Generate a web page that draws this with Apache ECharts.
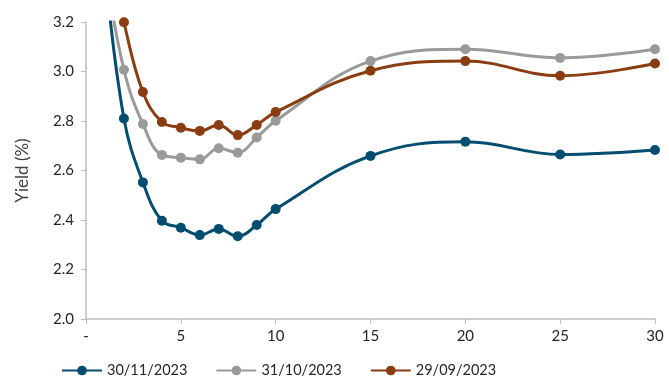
<!DOCTYPE html>
<html><head><meta charset="utf-8">
<script src="https://cdn.jsdelivr.net/npm/echarts@6/dist/echarts.min.js"></script>
<style>html,body{margin:0;padding:0;background:#fff}#c{width:669px;height:384px}</style>
</head><body><div id="c"></div>
<script>
const tenors = [1,2,3,4,5,6,7,8,9,10,15,20,25,30];
const seriesNames = ['30/11/2023','31/10/2023','29/09/2023'];
const nov = [3.42,2.81,2.552,2.397,2.369,2.339,2.364,2.334,2.380,2.444,2.659,2.716,2.665,2.683];
const oct = [3.43,3.007,2.788,2.663,2.652,2.645,2.690,2.672,2.733,2.801,3.042,3.090,3.055,3.090];
const sep = [3.55,3.199,2.917,2.796,2.773,2.760,2.784,2.743,2.784,2.836,3.003,3.042,2.983,3.032];
const colors = ['#024d70','#9a9a9a','#8a3d10'];
const font = 'Lato, "Noto Sans", sans-serif';
const chart = echarts.init(document.getElementById('c'));
function mk(name, vals, color){
  return {name, type:'line', data: tenors.map((t,i)=>[t, vals[i]]), smooth:0.4,
    symbol:'circle', symbolSize:10, showSymbol:true, clip:true,
    lineStyle:{width:3,color}, itemStyle:{color}};
}
chart.setOption({
  animation:false,
  grid:{left:86,right:14,top:22,bottom:65},
  legend:{left:56,bottom:1,itemWidth:40,itemHeight:12,itemGap:28,
    textStyle:{fontFamily:font,fontSize:14.5,color:'#262626'},
    data:seriesNames},
  xAxis:{type:'value',min:0,max:30,interval:5,
    axisLine:{lineStyle:{color:'#bfbfbf',width:1.5}},
    axisTick:{show:true,length:5,lineStyle:{color:'#bfbfbf'}},
    splitLine:{show:false},
    axisLabel:{fontFamily:font,fontSize:15,color:'#262626',margin:10,
      formatter:v=>v===0?'-':String(v)}},
  yAxis:{type:'value',min:2.0,max:3.2,interval:0.2,
    name:'Yield (%)',nameLocation:'middle',nameGap:55,nameRotate:90,
    nameTextStyle:{fontFamily:font,fontSize:17,color:'#404040'},
    axisLine:{show:true,lineStyle:{color:'#bfbfbf',width:1.5}},
    axisTick:{show:true,length:5,lineStyle:{color:'#bfbfbf'}},
    splitLine:{show:false},
    axisLabel:{fontFamily:font,fontSize:15,color:'#262626',margin:12,
      formatter:v=>v.toFixed(1)}},
  series:[mk(seriesNames[0],nov,colors[0]),mk(seriesNames[1],oct,colors[1]),mk(seriesNames[2],sep,colors[2])]
});
</script></body></html>
